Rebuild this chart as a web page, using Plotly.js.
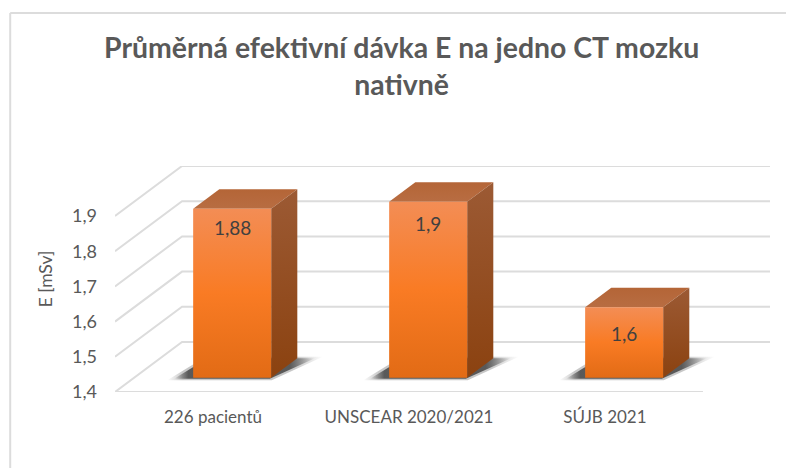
<!DOCTYPE html>
<html>
<head>
<meta charset="utf-8">
<script src="https://cdn.plot.ly/plotly-3.0.1.min.js"></script>
<style>
    html, body { margin: 0; padding: 0; background: #fff; overflow: hidden; }
    #chart { width: 786px; height: 468px; }
</style>
</head>
<body>
<div id="chart"></div>
<script>
const categories = ["226 pacientů", "UNSCEAR 2020/2021", "SÚJB 2021"];
const doseValues = [1.88, 1.9, 1.6];
const doseTicks = [1.4, 1.5, 1.6, 1.7, 1.8, 1.9];

// oblique projection: depth 0 is the front of the floor, depth 1 the back wall
const depthShiftX = 0.342;
const depthShiftY = 0.142;
const barHalfWidth = 0.199;
const barFrontDepth = 0.286;
const barBackDepth = 0.676;
const baseValue = doseTicks[0];
const labelDrop = [19, 22, 26];

const gridColor = "#dcdcdc";
const textColor = "#595959";
const fontFamily = "Lato, sans-serif";

function project(cat, value, depth) {
    return [cat + depth * depthShiftX, value + depth * depthShiftY];
}

function polygon(points, fillgradient) {
    return {
        x: points.map(p => p[0]),
        y: points.map(p => p[1]),
        type: "scatter",
        mode: "lines",
        line: { width: 0 },
        fill: "toself",
        fillgradient: fillgradient,
        hoverinfo: "skip",
        showlegend: false,
    };
}

function gridLine(points) {
    return {
        x: points.map(p => p[0]),
        y: points.map(p => p[1]),
        type: "scatter",
        mode: "lines",
        line: { color: gridColor, width: 2 },
        cliponaxis: false,
        hoverinfo: "skip",
        showlegend: false,
    };
}

function vertical(colorscale) {
    return { type: "vertical", colorscale: colorscale };
}

function shadowGradient(alpha) {
    return {
        type: "horizontal",
        colorscale: [
            [0, "rgba(70,70,70,0)"],
            [0.1, `rgba(70,70,70,${alpha})`],
            [0.82, `rgba(70,70,70,${alpha})`],
            [1, "rgba(70,70,70,0)"],
        ],
    };
}

const frontFill = vertical([[0, "#e26b15"], [0.5, "#f97b24"], [1, "#f38d55"]]);
const sideFill = vertical([[0, "#8b4210"], [1, "#9c5a34"]]);
const topFill = vertical([[0, "#b86d42"], [1, "#b46537"]]);

const traces = [];

// walls and floor
doseTicks.forEach(tick => {
    const right = categories.length + depthShiftX;
    traces.push(gridLine([project(0, tick, 0), project(0, tick, 1), [right, tick + depthShiftY]]));
});
traces.push(gridLine([project(0, baseValue, 0), project(categories.length, baseValue, 0)]));

// bars
doseValues.forEach((value, i) => {
    const left = i + 0.5 - barHalfWidth;
    const right = i + 0.5 + barHalfWidth;
    // floor shadow, a soft wide layer under a darker one
    traces.push(polygon([
        project(left - 0.115, baseValue, barFrontDepth - 0.05),
        project(right + 0.02, baseValue, barFrontDepth - 0.05),
        project(right + 0.12, baseValue, barBackDepth + 0.03),
        project(left - 0.08, baseValue, barBackDepth + 0.03),
    ], shadowGradient(0.3)));
    traces.push(polygon([
        project(left - 0.09, baseValue, barFrontDepth - 0.02),
        project(right, baseValue, barFrontDepth - 0.02),
        project(right + 0.09, baseValue, barBackDepth),
        project(left - 0.06, baseValue, barBackDepth),
    ], shadowGradient(0.85)));
    traces.push(polygon([
        project(left, value, barFrontDepth),
        project(right, value, barFrontDepth),
        project(right, value, barBackDepth),
        project(left, value, barBackDepth),
    ], topFill));
    traces.push(polygon([
        project(right, baseValue, barFrontDepth),
        project(right, baseValue, barBackDepth),
        project(right, value, barBackDepth),
        project(right, value, barFrontDepth),
    ], sideFill));
    traces.push(polygon([
        project(left, baseValue, barFrontDepth),
        project(right, baseValue, barFrontDepth),
        project(right, value, barFrontDepth),
        project(left, value, barFrontDepth),
    ], frontFill));
});

const annotations = doseValues.map((value, i) => {
    const pos = project(i + 0.5, value, barFrontDepth);
    return {
        x: pos[0],
        y: pos[1],
        xref: "x",
        yref: "y",
        yshift: -labelDrop[i],
        text: String(value).replace(".", ","),
        showarrow: false,
        font: { family: fontFamily, size: 19, color: "#404040" },
    };
});

const layout = {
    title: {
        text: "<b>Průměrná efektivní dávka E na jedno CT mozku<br>nativně</b>",
        x: 0.511,
        xanchor: "center",
        y: 0.876,
        yanchor: "top",
        font: { family: fontFamily, size: 28.4, color: textColor },
    },
    width: 786,
    height: 468,
    margin: { l: 115, r: 16, t: 166, b: 76 },
    paper_bgcolor: "#ffffff",
    plot_bgcolor: "#ffffff",
    separators: ", ",
    showlegend: false,
    xaxis: {
        range: [0, categories.length + depthShiftX],
        tickvals: categories.map((c, i) => i + 0.5),
        ticktext: categories,
        showgrid: false,
        zeroline: false,
        showline: false,
        ticks: "",
        ticklabelstandoff: 13,
        tickfont: { family: fontFamily, size: 17, color: textColor },
    },
    yaxis: {
        range: [baseValue, doseTicks[doseTicks.length - 1] + depthShiftY],
        tickvals: doseTicks,
        tickformat: ".1f",
        showgrid: false,
        zeroline: false,
        showline: false,
        ticks: "",
        ticklabelstandoff: 17,
        tickfont: { family: fontFamily, size: 18, color: textColor },
        title: {
            text: "E [mSv]",
            standoff: 14,
            font: { family: fontFamily, size: 17.5, color: textColor },
        },
    },
    annotations: annotations,
    shapes: [
        // chart area border, left and top edges only reach into the picture
        { type: "line", xref: "paper", yref: "paper", x0: -0.16, x1: -0.16, y0: -0.336, y1: 1.677, line: { color: gridColor, width: 2 } },
        { type: "line", xref: "paper", yref: "paper", x0: -0.16, x1: 1.03, y0: 1.677, y1: 1.677, line: { color: gridColor, width: 2 } },
    ],
};

Plotly.newPlot("chart", traces, layout, { displayModeBar: false, responsive: false });
</script>
</body>
</html>
